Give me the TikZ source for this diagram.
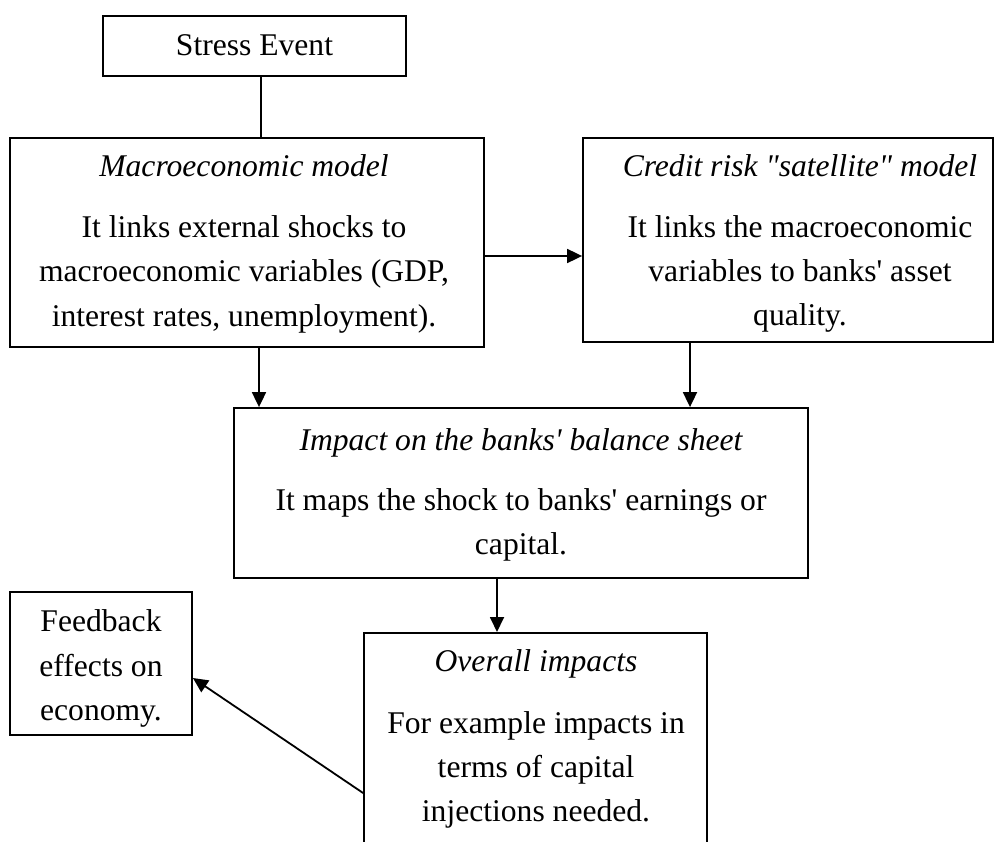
\documentclass[tikz,border=0pt]{standalone}
\usepackage{fontspec}
\setmainfont{Liberation Serif}[Ligatures=TeXOff]
\usetikzlibrary{arrows.meta}
\begin{document}
\begin{tikzpicture}[x=1pt,y=-1pt,
  box/.style={draw,line width=1.8pt,inner sep=0pt},
  txt/.style={inner sep=0pt,anchor=base,font=\fontsize{31.6}{44}\selectfont},
  ttl/.style={txt,font=\fontsize{31.6}{44}\selectfont\itshape},
  arr/.style={line width=1.8pt,-{Triangle[length=15pt,width=14pt]}},
  ln/.style={line width=1.8pt}]
\path[use as bounding box,clip] (0,0) rectangle (1006,842);
% boxes
\node[box,minimum width=303pt,minimum height=60pt] (stress) at (254.5,46) {};
\node[box,minimum width=474pt,minimum height=209pt] (macro) at (247,242.5) {};
\node[box,minimum width=410pt,minimum height=204pt] (credit) at (788,240) {};
\node[box,minimum width=574pt,minimum height=170pt] (impact) at (521,493) {};
\node[box,minimum width=343pt,minimum height=260pt,anchor=north] (overall) at (535.5,632) {};
\node[box,minimum width=182pt,minimum height=143pt] (feedback) at (101,663.5) {};
% texts
\node[txt] (s1) at (254.5,56) {Stress Event};
\node[ttl] (m0) at (244,176.7) {Macroeconomic model};
\node[txt] (m1) at (244,238) {It links external shocks to};
\node[txt] (m2) at (244,282) {macroeconomic variables (GDP,};
\node[txt] (m3) at (244,326) {interest rates, unemployment).};
\node[ttl] (c0) at (800,176.5) {Credit risk "satellite" model};
\node[txt] (c1) at (800,238) {It links the macroeconomic};
\node[txt] (c2) at (800,282) {variables to banks' asset};
\node[txt] (c3) at (800,325.5) {quality.};
\node[ttl] (i0) at (521,450) {Impact on the banks' balance sheet};
\node[txt] (i1) at (521,510) {It maps the shock to banks' earnings or};
\node[txt] (i2) at (521,554) {capital.};
\node[ttl] (o0) at (536,671.3) {Overall impacts};
\node[txt] (o1) at (536,733) {For example impacts in};
\node[txt] (o2) at (536,777.3) {terms of capital};
\node[txt] (o3) at (536,821) {injections needed.};
\node[txt] (f1) at (101,631.7) {Feedback};
\node[txt] (f2) at (101,676) {effects on};
\node[txt] (f3) at (101,720) {economy.};
% connectors
\coordinate (xa) at (261,0);
\coordinate (ya) at (0,256);
\coordinate (xb) at (259,0);
\coordinate (xc) at (690,0);
\coordinate (xd) at (497,0);
\coordinate (yf) at (0,678);
\coordinate (ys) at (0,793);
\draw[ln] (stress.south -| xa) -- (macro.north -| xa);
\draw[arr] (macro.east |- ya) -- (credit.west |- ya);
\draw[arr] (macro.south -| xb) -- (impact.north -| xb);
\draw[arr] (credit.south -| xc) -- (impact.north -| xc);
\draw[arr] (impact.south -| xd) -- (overall.north -| xd);
\draw[arr] (overall.west |- ys) -- (feedback.east |- yf);
\end{tikzpicture}
\end{document}
